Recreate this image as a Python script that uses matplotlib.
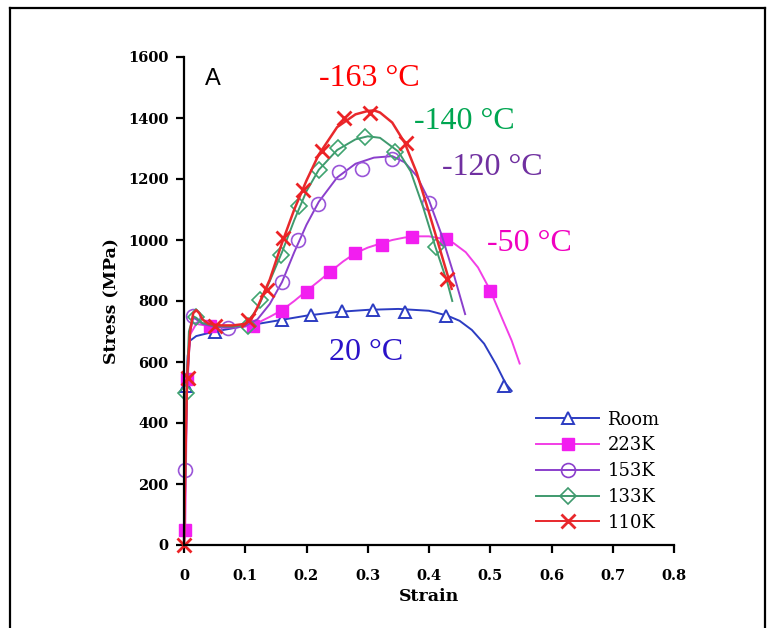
import matplotlib.pyplot as plt
from matplotlib.lines import Line2D

# curves (strain, stress in MPa)
room_x = [0, 0.002, 0.004, 0.006, 0.01, 0.02, 0.05, 0.1, 0.15, 0.2, 0.25, 0.3, 0.35, 0.4, 0.43, 0.45, 0.47, 0.49, 0.51, 0.525, 0.535]
room_y = [0, 300, 520, 620, 670, 685, 700, 718, 735, 752, 764, 771, 774, 768, 752, 735, 705, 660, 590, 530, 505]
room_mx = [0.003, 0.05, 0.16, 0.208, 0.258, 0.309, 0.361, 0.427, 0.522]
room_my = [520, 698, 737, 753, 766, 770, 764, 750, 520]

k223_x = [0, 0.002, 0.005, 0.01, 0.02, 0.04, 0.07, 0.1, 0.12, 0.14, 0.16, 0.18, 0.2, 0.22, 0.24, 0.26, 0.28,
          0.3, 0.32, 0.34, 0.36, 0.38, 0.4, 0.42, 0.44, 0.46, 0.48, 0.5, 0.52, 0.535, 0.548]
k223_y = [0, 50, 540, 690, 725, 718, 712, 716, 728, 748, 770, 800, 833, 865, 898, 930, 957,
          975, 988, 1000, 1008, 1012, 1012, 1005, 990, 960, 910, 835, 740, 670, 595]
k223_mx = [0.002, 0.005, 0.043, 0.113, 0.16, 0.2, 0.239, 0.279, 0.323, 0.372, 0.427, 0.5]
k223_my = [48, 545, 718, 718, 768, 830, 895, 957, 985, 1011, 1003, 833]

k153_x = [0, 0.002, 0.005, 0.01, 0.015, 0.02, 0.03, 0.05, 0.08, 0.1, 0.12, 0.14, 0.16, 0.18, 0.2, 0.22,
          0.25, 0.28, 0.31, 0.34, 0.36, 0.38, 0.4, 0.42, 0.44, 0.459]
k153_y = [0, 246, 500, 700, 745, 740, 725, 715, 712, 718, 740, 790, 862, 960, 1050, 1125,
          1205, 1250, 1270, 1275, 1255, 1210, 1130, 1020, 890, 757]
k153_mx = [0.001, 0.015, 0.072, 0.16, 0.186, 0.218, 0.253, 0.291, 0.339, 0.4]
k153_my = [246, 750, 711, 862, 1000, 1119, 1222, 1234, 1264, 1122]

k133_x = [0, 0.002, 0.004, 0.008, 0.015, 0.02, 0.03, 0.05, 0.08, 0.1, 0.12, 0.14, 0.16, 0.18, 0.2, 0.22,
          0.25, 0.28, 0.3, 0.32, 0.35, 0.37, 0.39, 0.41, 0.43, 0.438]
k133_y = [0, 200, 500, 700, 750, 745, 728, 718, 716, 722, 775, 865, 960, 1065, 1160, 1230,
          1295, 1330, 1340, 1335, 1290, 1225, 1110, 980, 860, 800]
k133_mx = [0.003, 0.019, 0.104, 0.124, 0.158, 0.188, 0.22, 0.251, 0.295, 0.345, 0.411]
k133_my = [500, 748, 718, 803, 952, 1110, 1231, 1301, 1337, 1288, 978]

k110_x = [0, 0.002, 0.005, 0.01, 0.015, 0.02, 0.025, 0.03, 0.04, 0.06, 0.08, 0.1, 0.11, 0.12, 0.14, 0.16,
          0.18, 0.2, 0.22, 0.25, 0.28, 0.3, 0.31, 0.32, 0.34, 0.36, 0.38, 0.4, 0.42, 0.437]
k110_y = [0, 250, 546, 700, 760, 770, 760, 740, 725, 720, 720, 725, 740, 780, 870, 990,
          1100, 1195, 1280, 1370, 1412, 1423, 1425, 1418, 1385, 1320, 1220, 1090, 955, 840]
k110_mx = [0, 0.006, 0.05, 0.104, 0.136, 0.162, 0.195, 0.225, 0.261, 0.303, 0.362, 0.43]
k110_my = [0, 546, 718, 737, 836, 1007, 1165, 1293, 1400, 1416, 1317, 872]

fig = plt.figure(figsize=(7.7, 6.28), dpi=100)
ax = fig.add_axes([184/770, 83/628, 490/770, 488/628])

lw = 1.4
ax.plot(room_x, room_y, color="#2c3cc2", lw=lw, clip_on=False)
ax.plot(room_mx, room_my, "^", color="#2c3cc2", mfc="white", mew=1.4, ms=9, clip_on=False)
ax.plot(k223_x, k223_y, color="#f23ee6", lw=lw, clip_on=False)
ax.plot(k223_mx, k223_my, "s", color="#f21ef0", mec="#f21ef0", ms=8, clip_on=False)
ax.plot(k153_x, k153_y, color="#8b3fcc", lw=lw, clip_on=False)
ax.plot(k153_mx, k153_my, "o", color="#9a55d8", mfc="none", mew=1.2, ms=10, clip_on=False)
ax.plot(k133_x, k133_y, color="#3f9a6e", lw=lw, clip_on=False)
ax.plot(k133_mx, k133_my, "D", color="#3fa470", mfc="none", mew=1.2, ms=8, clip_on=False)
ax.plot(k110_x, k110_y, color="#e8282c", lw=1.8, clip_on=False)
ax.plot(k110_mx, k110_my, "x", color="#ec2226", mew=2, ms=10, clip_on=False)

ax.set_xlim(0, 0.8)
ax.set_ylim(0, 1600)
ax.set_xticks([0, 0.1, 0.2, 0.3, 0.4, 0.5, 0.6, 0.7, 0.8])
ax.set_xticklabels(["0", "0.1", "0.2", "0.3", "0.4", "0.5", "0.6", "0.7", "0.8"])
ax.set_yticks(range(0, 1601, 200))
for s in ["top", "right"]:
    ax.spines[s].set_visible(False)
for s in ["left", "bottom"]:
    ax.spines[s].set_linewidth(1.6)
ax.tick_params(direction="out", length=6, width=1.6, labelsize=10.5, pad=5)
ax.tick_params(axis="x", pad=11)
for lab in ax.get_xticklabels() + ax.get_yticklabels():
    lab.set_family("DejaVu Serif")
    lab.set_fontweight("bold")

ax.set_xlabel("Strain", family="DejaVu Serif", fontweight="bold", fontsize=12.5, labelpad=4)
ax.set_ylabel("Stress (MPa)", family="DejaVu Serif", fontweight="bold", fontsize=12.5, labelpad=6)

ax.text(0.047, 1528, "A", family="Liberation Sans", fontsize=17, va="center", ha="center")
tfont = dict(family="Liberation Serif", fontsize=23, va="center", ha="center")
ax.text(0.303, 1528, "-163 °C", color="#ff0000", **tfont)
ax.text(0.458, 1387, "-140 °C", color="#00a651", **tfont)
ax.text(0.504, 1239, "-120 °C", color="#7030a0", **tfont)
ax.text(0.564, 987, "-50 °C", color="#f000c0", **tfont)
ax.text(0.297, 630, "20 °C", color="#2a12c8", **tfont)

handles = [
    Line2D([], [], color="#2c3cc2", marker="^", mfc="white", mew=1.4, ms=9, lw=lw),
    Line2D([], [], color="#f23ee6", marker="s", mfc="#f21ef0", mec="#f21ef0", ms=8, lw=lw),
    Line2D([], [], color="#8b3fcc", marker="o", mfc="none", mew=1.2, ms=10, lw=lw),
    Line2D([], [], color="#3f9a6e", marker="D", mfc="none", mew=1.2, ms=8, lw=lw),
    Line2D([], [], color="#e8282c", marker="x", mew=2, ms=10, lw=lw),
]
ax.legend(handles, ["Room", "223K", "153K", "133K", "110K"], loc="upper left",
          bbox_to_anchor=(0.70, 0.294), frameon=False, handlelength=3.5, handletextpad=0.45,
          labelspacing=0.43, borderpad=0, prop={"family": "DejaVu Serif", "size": 13})

# outer frame (left, top, right)
fig.add_artist(Line2D([10/770, 10/770], [0, 1 - 8/628], color="black", lw=1.6))
fig.add_artist(Line2D([10/770, 765/770], [1 - 8/628, 1 - 8/628], color="black", lw=1.6))
fig.add_artist(Line2D([765/770, 765/770], [0, 1 - 8/628], color="black", lw=1.6))

fig.savefig("out.png", dpi=100)
